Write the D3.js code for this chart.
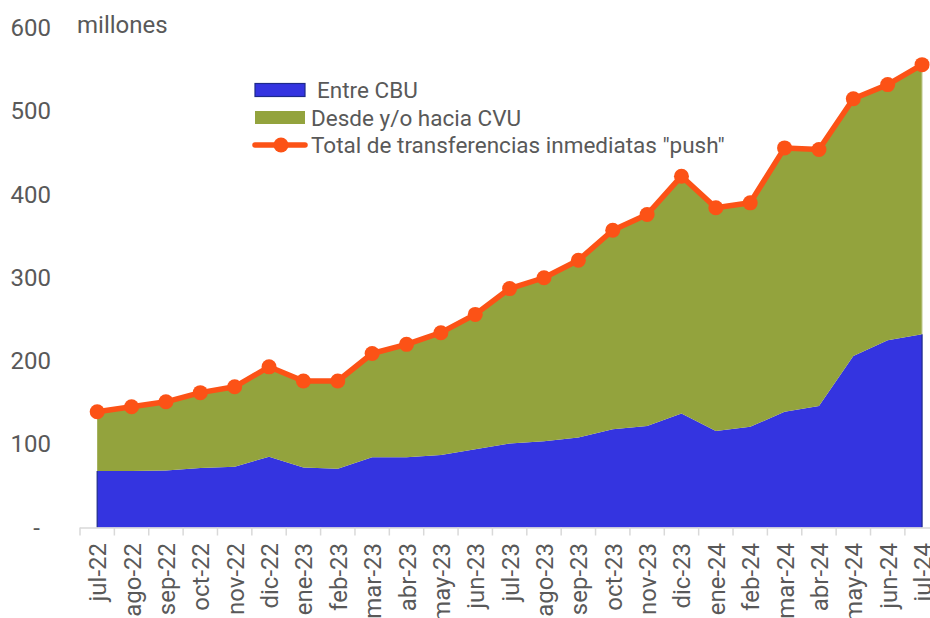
<!DOCTYPE html>
<html>
<head>
<meta charset="utf-8">
<script src="https://cdn.jsdelivr.net/npm/d3@7"></script>
<style>
  body { margin: 0; background: #fff; }
  text { font-family: Roboto, "Noto Sans", sans-serif; fill: #595959; }
</style>
</head>
<body>
<script>
// meses
var meses = ["jul-22","ago-22","sep-22","oct-22","nov-22","dic-22","ene-23","feb-23","mar-23","abr-23","may-23","jun-23",
  "jul-23","ago-23","sep-23","oct-23","nov-23","dic-23","ene-24","feb-24","mar-24","abr-24","may-24","jun-24","jul-24"];
// millones de transferencias
var entreCBU = [68,68,68.5,71.5,73,85,72,70.5,84.5,84.5,87,94,101,103.5,108,118,122,137,116,121,139,146,206,225,232];
var total = [139,145,151,162,169,193,176,176,209,220,234,256,287,300,321,357,376,422,384,390,456,454,515,532,556];
var cvu = total.map((t,i) => t - entreCBU[i]);
var yTicks = [0,100,200,300,400,500,600];

var W = 930, H = 618;
var svg = d3.select("body").append("svg").attr("width", W).attr("height", H);

var x = d3.scaleBand().domain(meses).range([80, 80 + 25*34.37]);
var y = d3.scaleLinear().domain([0, 600]).range([527.5, 28]);
var cx = d => x(d) + x.bandwidth()/2;

var datos = meses.map((m,i) => ({mes: m, cbu: entreCBU[i], cvu: cvu[i], total: total[i]}));
var stack = d3.stack().keys(["cbu","cvu"])(datos);
var colores = {cbu: "#3434e0", cvu: "#93a33d"};

var area = d3.area()
  .x(d => cx(d.data.mes))
  .y0(d => y(d[0]))
  .y1(d => y(d[1]));

svg.selectAll(".capa").data(stack).enter().append("path")
  .attr("d", area)
  .attr("fill", d => colores[d.key]);

// bordes laterales de las areas
var primero = meses[0], ultimo = meses[meses.length-1];
svg.append("line").attr("x1", cx(ultimo)).attr("x2", cx(ultimo))
  .attr("y1", y(total[total.length-1])).attr("y2", y(entreCBU[entreCBU.length-1]))
  .attr("stroke", "#c8d2a0").attr("stroke-width", 1);
[primero, ultimo].forEach(function(m, k){
  var v = k == 0 ? entreCBU[0] : entreCBU[entreCBU.length-1];
  svg.append("line").attr("x1", cx(m)).attr("x2", cx(m))
    .attr("y1", y(v)).attr("y2", y(0))
    .attr("stroke", "#1d2a8a").attr("stroke-width", 1.2);
});

// eje x
svg.append("line").attr("x1", x.range()[0]).attr("x2", x.range()[1])
  .attr("y1", y(0) + 0.5).attr("y2", y(0) + 0.5)
  .attr("stroke", "#d9d9d9").attr("stroke-width", 1.5);
svg.selectAll(".tick").data(meses.concat(["_fin"])).enter().append("line")
  .attr("x1", (d,i) => x.range()[0] + i*x.step())
  .attr("x2", (d,i) => x.range()[0] + i*x.step())
  .attr("y1", y(0)).attr("y2", y(0) + 8)
  .attr("stroke", "#d9d9d9").attr("stroke-width", 1.5);
svg.selectAll(".xlab").data(meses).enter().append("text")
  .text(d => d)
  .attr("transform", d => "translate(" + (cx(d) + 1) + "," + 543 + ") rotate(-90)")
  .attr("text-anchor", "end")
  .attr("dominant-baseline", "central")
  .style("font-size", "24px");

// eje y
svg.selectAll(".ylab").data(yTicks).enter().append("text")
  .text(d => d == 0 ? "-" : d)
  .attr("x", d => d == 0 ? 40 : 51)
  .attr("y", d => y(d))
  .attr("text-anchor", "end")
  .attr("dominant-baseline", "central")
  .style("font-size", "24px");

svg.append("text").text("millones")
  .attr("x", 77).attr("y", y(600) - 3)
  .attr("dominant-baseline", "central")
  .style("font-size", "24px");

// linea total
var linea = d3.line().x(d => cx(d.mes)).y(d => y(d.total));
svg.append("path").datum(datos).attr("d", linea)
  .attr("fill", "none").attr("stroke", "#fc5216").attr("stroke-width", 5.5)
  .attr("stroke-linejoin", "round");
svg.selectAll(".pt").data(datos).enter().append("circle")
  .attr("cx", d => cx(d.mes)).attr("cy", d => y(d.total)).attr("r", 7.5)
  .attr("fill", "#fc5216");

// leyenda
var ley = svg.append("g").attr("transform", "translate(255,90)");
ley.append("rect").attr("x", 0).attr("y", -6.5).attr("width", 50).attr("height", 13)
  .attr("fill", colores.cbu).attr("stroke", "#1d2a8a").attr("stroke-width", 1.2);
ley.append("text").text("Entre CBU").attr("x", 62).attr("y", 0)
  .attr("dominant-baseline", "central").style("font-size", "22.5px");
ley.append("rect").attr("x", 0).attr("y", 21).attr("width", 50).attr("height", 13)
  .attr("fill", colores.cvu);
ley.append("text").text("Desde y/o hacia CVU").attr("x", 56).attr("y", 27.5)
  .attr("dominant-baseline", "central").style("font-size", "22.5px");
ley.append("line").attr("x1", 0).attr("x2", 50).attr("y1", 55).attr("y2", 55)
  .attr("stroke", "#fc5216").attr("stroke-width", 5.5).attr("stroke-linecap", "round");
ley.append("circle").attr("cx", 26).attr("cy", 55).attr("r", 7.5).attr("fill", "#fc5216");
ley.append("text").text("Total de transferencias inmediatas \"push\"").attr("x", 56).attr("y", 55)
  .attr("dominant-baseline", "central").style("font-size", "22.5px");
</script>
</body>
</html>
